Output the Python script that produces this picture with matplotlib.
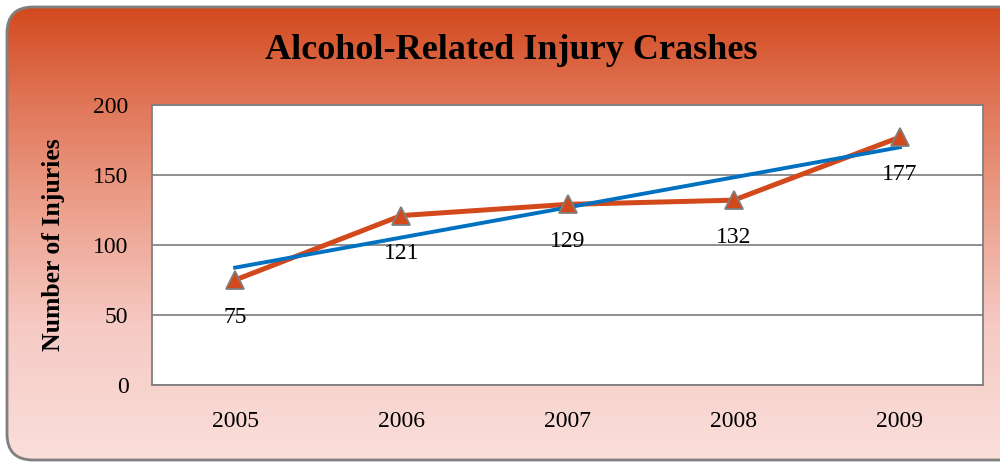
import numpy as np
import matplotlib
matplotlib.use("Agg")
import matplotlib.pyplot as plt
from matplotlib.colors import LinearSegmentedColormap
from matplotlib.patches import FancyBboxPatch

years = ["2005", "2006", "2007", "2008", "2009"]
injuries = [75, 121, 129, 132, 177]
yticks = [0, 50, 100, 150, 200]

plt.rcParams['font.family'] = ['Liberation Serif', 'DejaVu Serif']

fig = plt.figure(figsize=(10, 4.63), dpi=100)

# background panel with vertical gradient and rounded border
bg = fig.add_axes([0, 0, 1, 1])
bg.set_xlim(0, 1000)
bg.set_ylim(463, 0)
bg.axis('off')
cmap = LinearSegmentedColormap.from_list(
    'bg', [(0.0, '#d2461a'), (0.22, '#e07658'), (0.45, '#eca08c'),
           (0.7, '#f6c9c3'), (1.0, '#fadfdb')])
grad = np.linspace(0, 1, 256).reshape(-1, 1)
img = bg.imshow(grad, cmap=cmap, aspect='auto', extent=(0, 1000, 463, 0))
frame = FancyBboxPatch((7, 7), 1030, 453, boxstyle="round,pad=0,rounding_size=26",
                       facecolor='none', edgecolor='#7f7f7f', linewidth=2)
bg.add_patch(frame)
img.set_clip_path(frame)

fig.text(0.511, 0.892, 'Alcohol-Related Injury Crashes', ha='center', va='center',
         fontsize=26, fontweight='bold', color='black')

ax = fig.add_axes([0.152, 0.1685, 0.831, 0.6048])
ax.set_facecolor('white')
x = np.arange(len(years))

# linear trend line
slope, intercept = np.polyfit(x, injuries, 1)
ax.plot(x, slope * x + intercept, color='#0070c0', linewidth=2.8, zorder=3)
ax.plot(x, injuries, color='#d2491c', linewidth=3.6, zorder=2)
ax.plot(x, injuries, linestyle='none', marker='^', markersize=13,
        markerfacecolor='#d2491c', markeredgecolor='#7f7f7f', markeredgewidth=1.3, zorder=4)

for xi, v in zip(x, injuries):
    ax.annotate(str(v), (xi, v), xytext=(0, -27), textcoords='offset points',
                ha='center', va='center', fontsize=17, color='black', zorder=5)

ax.set_xlim(-0.5, len(years) - 0.5)
ax.set_ylim(0, 200)
ax.set_xticks(x)
ax.set_xticklabels(years)
ax.set_yticks(yticks)
ax.tick_params(axis='both', length=0, labelsize=17)
ax.tick_params(axis='y', pad=17)
ax.tick_params(axis='x', pad=19)
ax.yaxis.grid(True, color='#868686', linewidth=1.3)
ax.set_axisbelow(True)
for s in ax.spines.values():
    s.set_color('#808080')
    s.set_linewidth(1.3)
ax.set_ylabel('Number of Injuries', fontsize=18.5, fontweight='bold', labelpad=20)

fig.savefig('out.png', dpi=100)
